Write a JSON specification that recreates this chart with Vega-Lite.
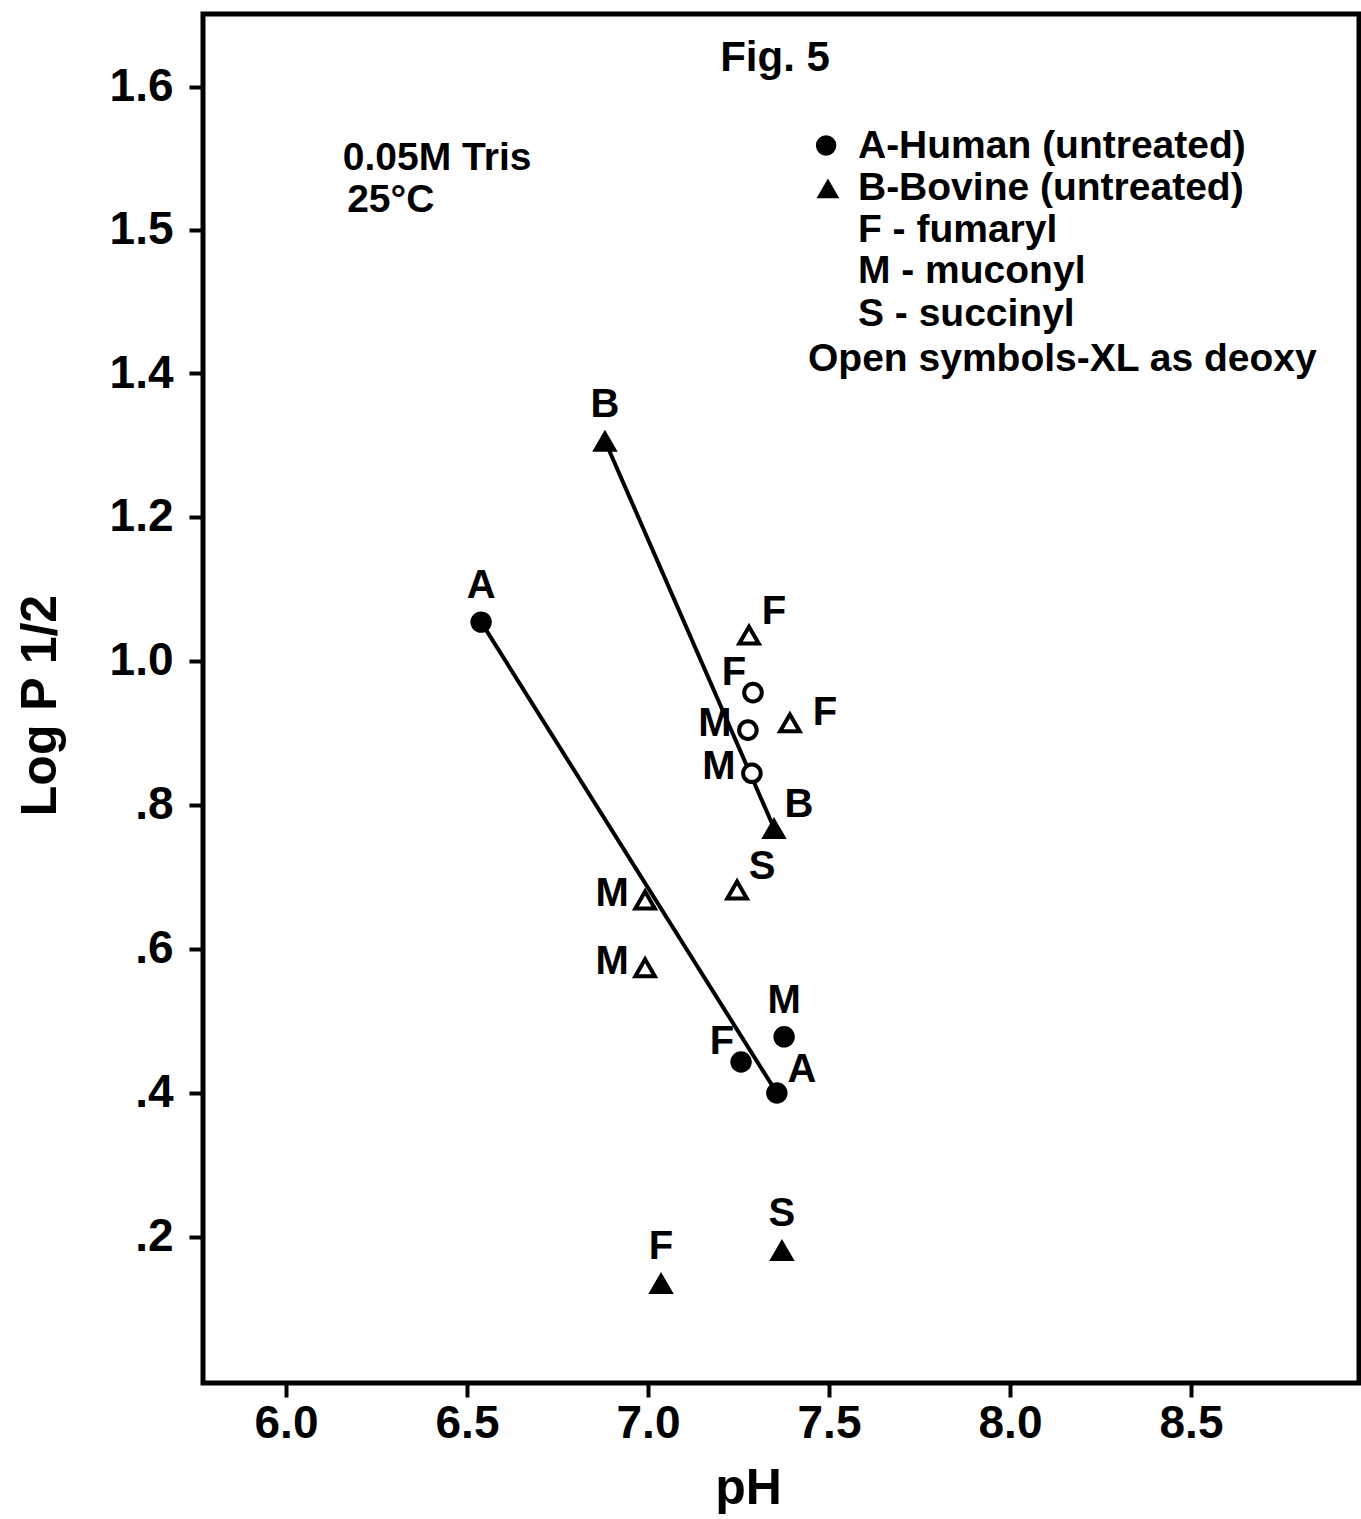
{
  "$schema": "https://vega.github.io/schema/vega-lite/v6.json",
  "width": 1156,
  "height": 1369,
  "autosize": {"type": "none"},
  "padding": {"left": 203, "top": 14, "right": 2, "bottom": 136},
  "background": "white",
  "config": {
    "font": "Liberation Sans",
    "view": {"stroke": "black", "strokeWidth": 5},
    "axis": {"grid": false, "domain": false, "tickColor": "black", "tickWidth": 4, "tickSize": 14, "labelColor": "black", "labelFont": "Liberation Sans", "labelFontWeight": "bold", "titleFont": "Liberation Sans", "titleFontWeight": "bold", "titleColor": "black"}
  },
  "datasets": {
    "points": [
      {"species": "Human", "treatment": "untreated", "xl": "no", "pH": 6.539, "logP": 1.054, "label": "A", "pos": "above"},
      {"species": "Human", "treatment": "untreated", "xl": "no", "pH": 7.356, "logP": 0.400, "label": "A", "pos": "upright"},
      {"species": "Human", "treatment": "fumaryl", "xl": "no", "pH": 7.257, "logP": 0.443, "label": "F", "pos": "upleft"},
      {"species": "Human", "treatment": "muconyl", "xl": "no", "pH": 7.376, "logP": 0.478, "label": "M", "pos": "above"},
      {"species": "Bovine", "treatment": "untreated", "xl": "no", "pH": 6.881, "logP": 1.306, "label": "B", "pos": "above"},
      {"species": "Bovine", "treatment": "untreated", "xl": "no", "pH": 7.348, "logP": 0.768, "label": "B", "pos": "upright"},
      {"species": "Bovine", "treatment": "fumaryl", "xl": "no", "pH": 7.036, "logP": 0.136, "label": "F", "pos": "above"},
      {"species": "Bovine", "treatment": "succinyl", "xl": "no", "pH": 7.370, "logP": 0.182, "label": "S", "pos": "above"},
      {"species": "Bovine", "treatment": "fumaryl", "xl": "deoxy", "pH": 7.279, "logP": 1.036, "label": "F", "pos": "upright"},
      {"species": "Bovine", "treatment": "fumaryl", "xl": "deoxy", "pH": 7.392, "logP": 0.914, "label": "F", "pos": "right"},
      {"species": "Bovine", "treatment": "succinyl", "xl": "deoxy", "pH": 7.246, "logP": 0.682, "label": "S", "pos": "upright"},
      {"species": "Bovine", "treatment": "muconyl", "xl": "deoxy", "pH": 6.992, "logP": 0.668, "label": "M", "pos": "left"},
      {"species": "Bovine", "treatment": "muconyl", "xl": "deoxy", "pH": 6.992, "logP": 0.574, "label": "M", "pos": "left"},
      {"species": "Human", "treatment": "fumaryl", "xl": "deoxy", "pH": 7.290, "logP": 0.956, "label": "F", "pos": "upleft"},
      {"species": "Human", "treatment": "muconyl", "xl": "deoxy", "pH": 7.276, "logP": 0.904, "label": "M", "pos": "left"},
      {"species": "Human", "treatment": "muconyl", "xl": "deoxy", "pH": 7.287, "logP": 0.844, "label": "M", "pos": "left"}
    ],
    "notes": [
      {"pH": 6.157, "logP": 1.550, "text": "0.05M Tris"},
      {"pH": 6.169, "logP": 1.521, "text": "25°C"},
      {"pH": 7.580, "logP": 1.559, "text": "A-Human (untreated)"},
      {"pH": 7.580, "logP": 1.529, "text": "B-Bovine (untreated)"},
      {"pH": 7.580, "logP": 1.500, "text": "F - fumaryl"},
      {"pH": 7.580, "logP": 1.471, "text": "M - muconyl"},
      {"pH": 7.580, "logP": 1.441, "text": "S - succinyl"},
      {"pH": 7.442, "logP": 1.410, "text": "Open symbols-XL as deoxy"}
    ],
    "keys": [
      {"species": "Human", "pH": 7.492, "logP": 1.559},
      {"species": "Bovine", "pH": 7.497, "logP": 1.529}
    ],
    "fig": [
      {"pH": 7.351, "logP": 1.620, "text": "Fig. 5"}
    ]
  },
  "encoding": {
    "x": {
      "field": "pH", "type": "quantitative",
      "scale": {"domain": [5.7707, 8.9641], "nice": false, "zero": false},
      "axis": {"values": [6.0, 6.5, 7.0, 7.5, 8.0, 8.5], "format": ".1f", "labelFontSize": 46, "labelPadding": 4, "title": "pH", "titleFontSize": 50, "titleX": 545, "titleY": 105, "titleBaseline": "middle", "titleAnchor": "start", "titleAlign": "center"}
    },
    "y": {
      "field": "logP", "type": "quantitative",
      "scale": {"domain": [-0.0028, 1.4, 1.651], "range": [1369, 359, 0], "nice": false, "zero": false},
      "axis": {"values": [0.2, 0.4, 0.6, 0.8, 1.0, 1.2, 1.4, 1.5, 1.6], "labelExpr": "datum.value < 0.99 ? slice(format(datum.value, '.1f'), 1) : format(datum.value, '.1f')", "labelFontSize": 46, "labelPadding": 16, "labelBaseline": "middle", "title": "Log P 1/2", "titleFontSize": 50, "titleX": -163, "titleY": 691, "titleBaseline": "middle", "titleAlign": "center", "titleAngle": -90}
    }
  },
  "layer": [
    {
      "data": {"name": "points"},
      "transform": [{"filter": "datum.treatment == 'untreated'"}],
      "mark": {"type": "line", "color": "black", "strokeWidth": 4},
      "encoding": {"detail": {"field": "species"}, "order": {"field": "pH", "type": "quantitative"}}
    },
    {
      "data": {"name": "points"},
      "transform": [{"filter": "datum.species == 'Human' && datum.xl == 'no'"}],
      "mark": {"type": "point", "shape": "circle", "filled": true, "color": "black", "size": 460, "opacity": 1}
    },
    {
      "data": {"name": "points"},
      "transform": [{"filter": "datum.species == 'Bovine' && datum.xl == 'no'"}],
      "mark": {"type": "point", "shape": "triangle-up", "filled": true, "color": "black", "size": 650, "opacity": 1}
    },
    {
      "data": {"name": "points"},
      "transform": [{"filter": "datum.species == 'Human' && datum.xl == 'deoxy'"}],
      "mark": {"type": "point", "shape": "circle", "filled": false, "fill": "white", "fillOpacity": 1, "stroke": "black", "strokeWidth": 4, "size": 310, "opacity": 1}
    },
    {
      "data": {"name": "points"},
      "transform": [{"filter": "datum.species == 'Bovine' && datum.xl == 'deoxy'"}],
      "mark": {"type": "point", "shape": "triangle-up", "filled": false, "fill": "white", "fillOpacity": 1, "stroke": "black", "strokeWidth": 4, "size": 380, "opacity": 1}
    },
    {
      "data": {"name": "points"},
      "transform": [{"filter": "datum.pos == 'above'"}],
      "mark": {"type": "text", "fontSize": 40, "fontWeight": "bold", "color": "black", "align": "center", "baseline": "middle", "dy": -36},
      "encoding": {"text": {"field": "label"}}
    },
    {
      "data": {"name": "points"},
      "transform": [{"filter": "datum.pos == 'upright'"}],
      "mark": {"type": "text", "fontSize": 40, "fontWeight": "bold", "color": "black", "align": "center", "baseline": "middle", "dx": 25, "dy": -23},
      "encoding": {"text": {"field": "label"}}
    },
    {
      "data": {"name": "points"},
      "transform": [{"filter": "datum.pos == 'upleft'"}],
      "mark": {"type": "text", "fontSize": 40, "fontWeight": "bold", "color": "black", "align": "center", "baseline": "middle", "dx": -19, "dy": -20},
      "encoding": {"text": {"field": "label"}}
    },
    {
      "data": {"name": "points"},
      "transform": [{"filter": "datum.pos == 'left'"}],
      "mark": {"type": "text", "fontSize": 40, "fontWeight": "bold", "color": "black", "align": "center", "baseline": "middle", "dx": -33, "dy": -6},
      "encoding": {"text": {"field": "label"}}
    },
    {
      "data": {"name": "points"},
      "transform": [{"filter": "datum.pos == 'right'"}],
      "mark": {"type": "text", "fontSize": 40, "fontWeight": "bold", "color": "black", "align": "center", "baseline": "middle", "dx": 35, "dy": -10},
      "encoding": {"text": {"field": "label"}}
    },
    {
      "data": {"name": "keys"},
      "transform": [{"filter": "datum.species == 'Human'"}],
      "mark": {"type": "point", "shape": "circle", "filled": true, "color": "black", "size": 420, "opacity": 1}
    },
    {
      "data": {"name": "keys"},
      "transform": [{"filter": "datum.species == 'Bovine'"}],
      "mark": {"type": "point", "shape": "triangle-up", "filled": true, "color": "black", "size": 520, "opacity": 1}
    },
    {
      "data": {"name": "notes"},
      "mark": {"type": "text", "fontSize": 39, "fontWeight": "bold", "color": "black", "align": "left", "baseline": "middle"},
      "encoding": {"text": {"field": "text"}}
    },
    {
      "data": {"name": "fig"},
      "mark": {"type": "text", "fontSize": 42, "fontWeight": "bold", "color": "black", "align": "center", "baseline": "middle"},
      "encoding": {"text": {"field": "text"}}
    }
  ]
}
